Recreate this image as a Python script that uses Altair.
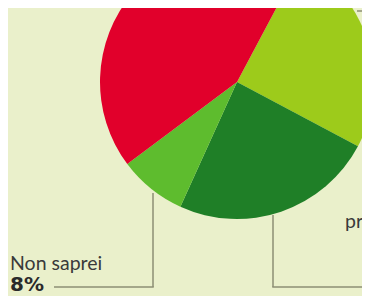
import math
import altair as alt
import pandas as pd

# data (percentages)
categories = ["Favorevoli", "Abbastanza favorevoli", "Non saprei", "Contrari"]
values = [25, 24, 8, 43]
colors = ["#9DCB1B", "#1F7F27", "#5EBC2E", "#E1002B"]

df = pd.DataFrame({"categoria": categories, "valore": values, "ordine": list(range(len(categories)))})

start = math.radians(28)
BG = "#EAF0CB"
LINE = "#8D8F74"
TXT = "#3A3A3A"

pie = alt.Chart(df).mark_arc(radius=137, clip=True, stroke=None).encode(
    theta=alt.Theta("valore:Q", stack=True,
                    scale=alt.Scale(domain=[0, 100], range=[start, start + 2 * math.pi])),
    color=alt.Color("categoria:N", scale=alt.Scale(domain=categories, range=colors), legend=None),
    order=alt.Order("ordine:Q"),
    x=alt.value(229),
    y=alt.value(74),
)

anno = alt.Chart(pd.DataFrame({"a": [0]}))

rules = [
    anno.mark_rule(color=LINE, strokeWidth=1.5).encode(x=alt.value(145), y=alt.value(185), y2=alt.value(279)),
    anno.mark_rule(color=LINE, strokeWidth=1.5).encode(x=alt.value(46), x2=alt.value(145.75), y=alt.value(279)),
    anno.mark_rule(color=LINE, strokeWidth=1.5).encode(x=alt.value(265), y=alt.value(207), y2=alt.value(279)),
    anno.mark_rule(color=LINE, strokeWidth=1.5).encode(x=alt.value(264.25), x2=alt.value(354), y=alt.value(279)),
    anno.mark_rule(color=LINE, strokeWidth=1.5).encode(x=alt.value(349), x2=alt.value(354), y=alt.value(3)),
]

t1 = anno.mark_text(text="Non saprei", align="left", baseline="alphabetic", font="Lato",
                    fontSize=19.5, color=TXT).encode(x=alt.value(2), y=alt.value(262))
t2 = anno.mark_text(text="8%", align="left", baseline="alphabetic", font="DejaVu Sans",
                    fontWeight="bold", fontSize=20, color="#2A2A2A").encode(x=alt.value(2), y=alt.value(283))
t3 = anno.mark_text(text="pr", align="left", baseline="alphabetic", font="Lato",
                    fontSize=19.5, color=TXT).encode(x=alt.value(337), y=alt.value(220))

chart = alt.layer(pie, *rules, t1, t2, t3).properties(
    width=354, height=288, padding=0, autosize=alt.AutoSizeParams(type="none"),
    background=BG,
).configure_view(stroke=None)

chart.save("out.html", embed_options={"renderer": "svg", "actions": False})
